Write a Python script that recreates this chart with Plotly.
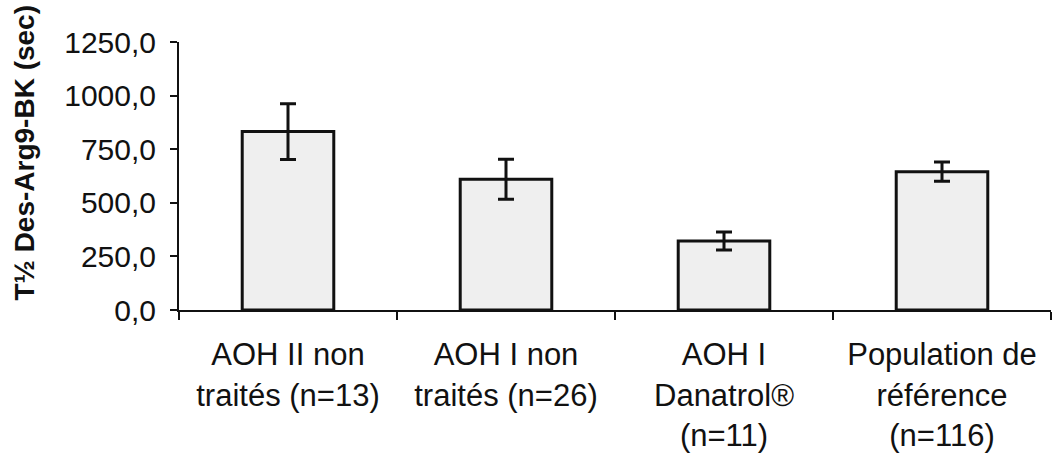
import plotly.graph_objects as go

# Half-life of des-Arg9-bradykinin per patient group
categories = [
    "AOH II non<br>traités (n=13)",
    "AOH I non<br>traités (n=26)",
    "AOH I<br>Danatrol®<br>(n=11)",
    "Population de<br>référence<br>(n=116)",
]
half_life = [832, 610, 322, 645]
sem = [130, 93, 42, 45]

y_tickvals = [0, 250, 500, 750, 1000, 1250]
y_ticktext = ["0,0", "250,0", "500,0", "750,0", "1000,0", "1250,0"]

FONT = "Liberation Sans, Arial, sans-serif"

fig = go.Figure(
    go.Bar(
        x=categories,
        y=half_life,
        width=0.42,
        marker=dict(color="#efefef", line=dict(color="#111111", width=3)),
        error_y=dict(type="data", array=sem, visible=True,
                     color="#111111", thickness=3, width=8),
    )
)

fig.update_layout(
    width=1057,
    height=458,
    margin=dict(l=179, r=6, t=42, b=148),
    paper_bgcolor="white",
    plot_bgcolor="white",
    showlegend=False,
    font=dict(family=FONT, color="#111111"),
    annotations=[
        dict(
            text="<b>T½ Des-Arg9-BK (sec)</b>",
            textangle=-90,
            xref="paper", yref="paper",
            x=-0.177, y=0.586,
            xanchor="center", yanchor="middle",
            showarrow=False,
            font=dict(family=FONT, size=28, color="#111111"),
        )
    ],
)

fig.update_xaxes(
    showline=True, linecolor="#111111", linewidth=2,
    ticks="outside", ticklen=8, tickwidth=1.5, tickcolor="#111111",
    tickson="boundaries",
    tickfont=dict(family=FONT, size=31, color="#111111"),
    ticklabelstandoff=16,
    showgrid=False,
)

fig.update_yaxes(
    range=[0, 1250],
    tickvals=y_tickvals, ticktext=y_ticktext,
    showline=True, linecolor="#111111", linewidth=2,
    ticks="outside", ticklen=7, tickwidth=1.5, tickcolor="#111111",
    tickfont=dict(family=FONT, size=30, color="#111111"),
    ticklabelstandoff=8,
    showgrid=False, zeroline=False,
)

fig.write_html("out.html")
